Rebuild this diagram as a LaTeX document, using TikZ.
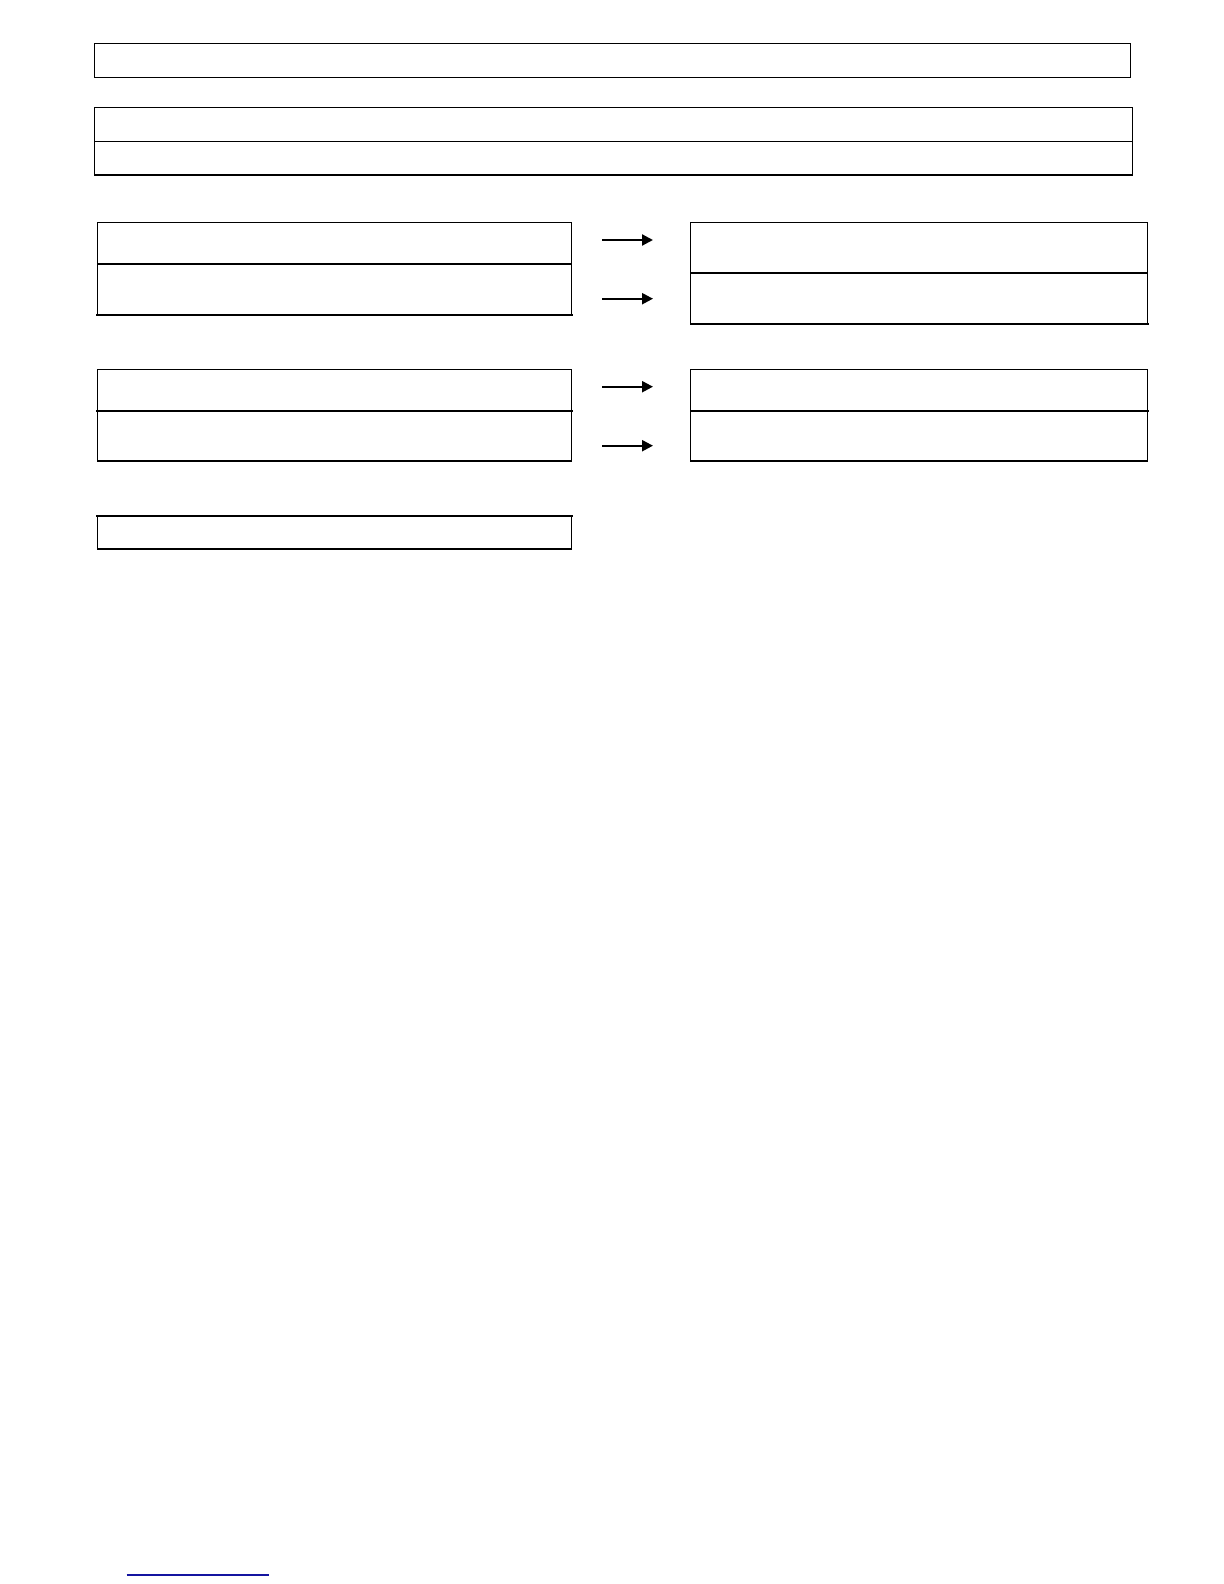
\documentclass[tikz,border=0pt]{standalone}
\usetikzlibrary{arrows.meta}
\begin{document}
\begin{tikzpicture}[x=0.5pt,y=-0.5pt,
  cell/.style={draw=black,line width=0.65pt,inner sep=0pt,outer sep=0pt,anchor=north west,fill=none},
  thickedge/.style={line width=1.2pt,line cap=rect},
  flow/.style={line width=1.1pt,-{Triangle[length=5.5pt,width=5.5pt]}}]
\useasboundingbox (0,0) rectangle (1224,1584);
\node[cell,minimum width=518pt,minimum height=17pt] (top) at (94.3,43.3) {};
\node[cell,minimum width=519pt,minimum height=16.8pt] (s1) at (94.3,107.7) {};
\node[cell,minimum width=519pt,minimum height=16.85pt] (s2) at (94.3,141.3) {};
\node[cell,minimum width=237.2pt,minimum height=20.65pt] (l1a) at (97.3,222.7) {};
\node[cell,minimum width=237.2pt,minimum height=25.5pt] (l1b) at (97.3,264) {};
\node[cell,minimum width=228.5pt,minimum height=25.15pt] (r1a) at (690.7,222.7) {};
\node[cell,minimum width=228.5pt,minimum height=25.35pt] (r1b) at (690.7,273) {};
\node[cell,minimum width=237.2pt,minimum height=20.85pt] (l2a) at (97.3,369.3) {};
\node[cell,minimum width=237.2pt,minimum height=25pt] (l2b) at (97.3,411) {};
\node[cell,minimum width=228.5pt,minimum height=20.85pt] (r2a) at (690.7,369.3) {};
\node[cell,minimum width=228.5pt,minimum height=25pt] (r2b) at (690.7,411) {};
\node[cell,minimum width=237.2pt,minimum height=16.65pt] (l3) at (97.3,515.7) {};
\draw[thickedge] (l1b.south west) -- (l1b.south east);
\draw[thickedge] (r1b.south west) -- (r1b.south east);
\draw[thickedge] (l2b.north west) -- (l2b.north east);
\draw[thickedge] (r2b.north west) -- (r2b.north east);
\draw[thickedge] (l3.north west) -- (l3.north east);
\coordinate (a1s) at (602,240);   \coordinate (a1e) at (653,240);
\coordinate (a2s) at (602,298.7); \coordinate (a2e) at (653,298.7);
\coordinate (a3s) at (602,386.7); \coordinate (a3e) at (653,386.7);
\coordinate (a4s) at (602,445.7); \coordinate (a4e) at (653,445.7);
\draw[flow] (a1s) -- (a1e);
\draw[flow] (a2s) -- (a2e);
\draw[flow] (a3s) -- (a3e);
\draw[flow] (a4s) -- (a4e);
\coordinate (fs) at (126.7,1575); \coordinate (fe) at (269,1575);
\draw[draw={rgb,255:red,20;green,20;blue,160},line width=0.8pt] (fs) -- (fe);
\end{tikzpicture}
\end{document}
